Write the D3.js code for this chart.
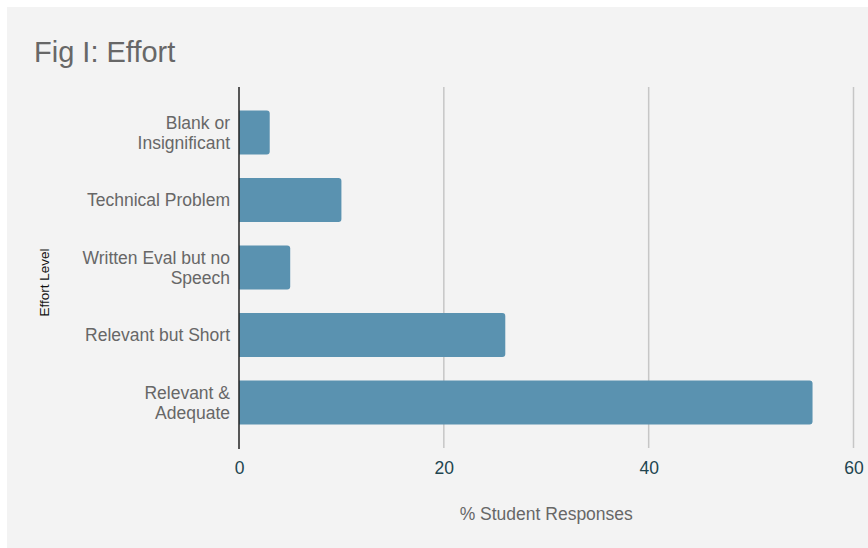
<!DOCTYPE html>
<html>
<head>
<meta charset="utf-8">
<script src="https://cdn.jsdelivr.net/npm/d3@7"></script>
<style>
  html, body { margin: 0; padding: 0; background: #ffffff; }
  svg { display: block; font-family: "Liberation Sans", Arial, sans-serif; }
</style>
</head>
<body>
<svg id="chart" width="868" height="548"></svg>
<script>
// Effort levels (top to bottom) and share of student responses (%)
const categories = [
  ["Blank or", "Insignificant"],
  ["Technical Problem"],
  ["Written Eval but no", "Speech"],
  ["Relevant but Short"],
  ["Relevant &", "Adequate"]
];
const values = [3, 10, 5, 26, 56];
const xTicks = [0, 20, 40, 60];

const chartTitle = "Fig I: Effort";
const xTitle = "% Student Responses";
const yTitle = "Effort Level";

const W = 868, H = 548;
const svg = d3.select("#chart");

// panel background
svg.append("rect")
  .attr("x", 7).attr("y", 7)
  .attr("width", W - 7).attr("height", H - 7)
  .attr("fill", "#f3f3f3");

const plot = { left: 239, right: 853.5, top: 87, bottom: 448 };

const x = d3.scaleLinear().domain([0, 60]).range([plot.left, plot.right]);
const keys = categories.map((c, i) => i);
const y = d3.scaleBand().domain(keys).range([plot.top, plot.bottom])
  .paddingInner(0.35).paddingOuter(0.35);

// vertical gridlines
svg.append("g")
  .selectAll("line")
  .data(xTicks.filter(t => t !== 0))
  .join("line")
  .attr("x1", d => x(d)).attr("x2", d => x(d))
  .attr("y1", plot.top).attr("y2", plot.bottom)
  .attr("stroke", "#c6c6c6")
  .attr("stroke-width", 1.5);

// bars with rounded right corners
const r = 3;
function barPath(i) {
  const x0 = x(0), x1 = x(values[i]);
  const y0 = y(i), y1 = y(i) + y.bandwidth();
  return `M${x0},${y0} H${x1 - r} Q${x1},${y0} ${x1},${y0 + r} V${y1 - r} Q${x1},${y1} ${x1 - r},${y1} H${x0} Z`;
}
svg.append("g")
  .selectAll("path")
  .data(keys)
  .join("path")
  .attr("d", d => barPath(d))
  .attr("fill", "#5a92b0");

// zero baseline
svg.append("line")
  .attr("x1", x(0)).attr("x2", x(0))
  .attr("y1", plot.top).attr("y2", plot.bottom + 1)
  .attr("stroke", "#222")
  .attr("stroke-width", 1.5);

// x axis tick labels
const xAxis = d3.axisBottom(x).tickValues(xTicks).tickSize(0).tickPadding(0).tickFormat(d3.format("d"));
const gx = svg.append("g")
  .attr("transform", `translate(0,${plot.bottom})`)
  .call(xAxis);
gx.select(".domain").remove();
gx.selectAll("text")
  .attr("dy", null)
  .attr("y", 26)
  .attr("font-size", 17.5)
  .attr("font-family", "'Liberation Sans', Arial, sans-serif")
  .attr("fill", "#21444f");

// category labels
const labels = svg.append("g");
keys.forEach(i => {
  const lines = categories[i];
  const cy = y(i) + y.bandwidth() / 2;
  const lh = 20;
  const t = labels.append("text")
    .attr("text-anchor", "end")
    .attr("font-size", 17.5)
    .attr("fill", "#676767");
  lines.forEach((ln, k) => {
    t.append("tspan")
      .attr("x", 230)
      .attr("y", cy + (k - (lines.length - 1) / 2) * lh)
      .attr("dy", "0.35em")
      .text(ln);
  });
});

// titles
svg.append("text")
  .attr("x", 34).attr("y", 62)
  .attr("font-size", 29)
  .attr("fill", "#676767")
  .text(chartTitle);

svg.append("text")
  .attr("x", x(30)).attr("y", 520)
  .attr("text-anchor", "middle")
  .attr("font-size", 17.5)
  .attr("fill", "#676767")
  .text(xTitle);

svg.append("text")
  .attr("transform", `translate(49,${(plot.top + plot.bottom) / 2 + 15}) rotate(-90)`)
  .attr("text-anchor", "middle")
  .attr("font-size", 13.5)
  .attr("fill", "#111")
  .text(yTitle);
</script>
</body>
</html>
